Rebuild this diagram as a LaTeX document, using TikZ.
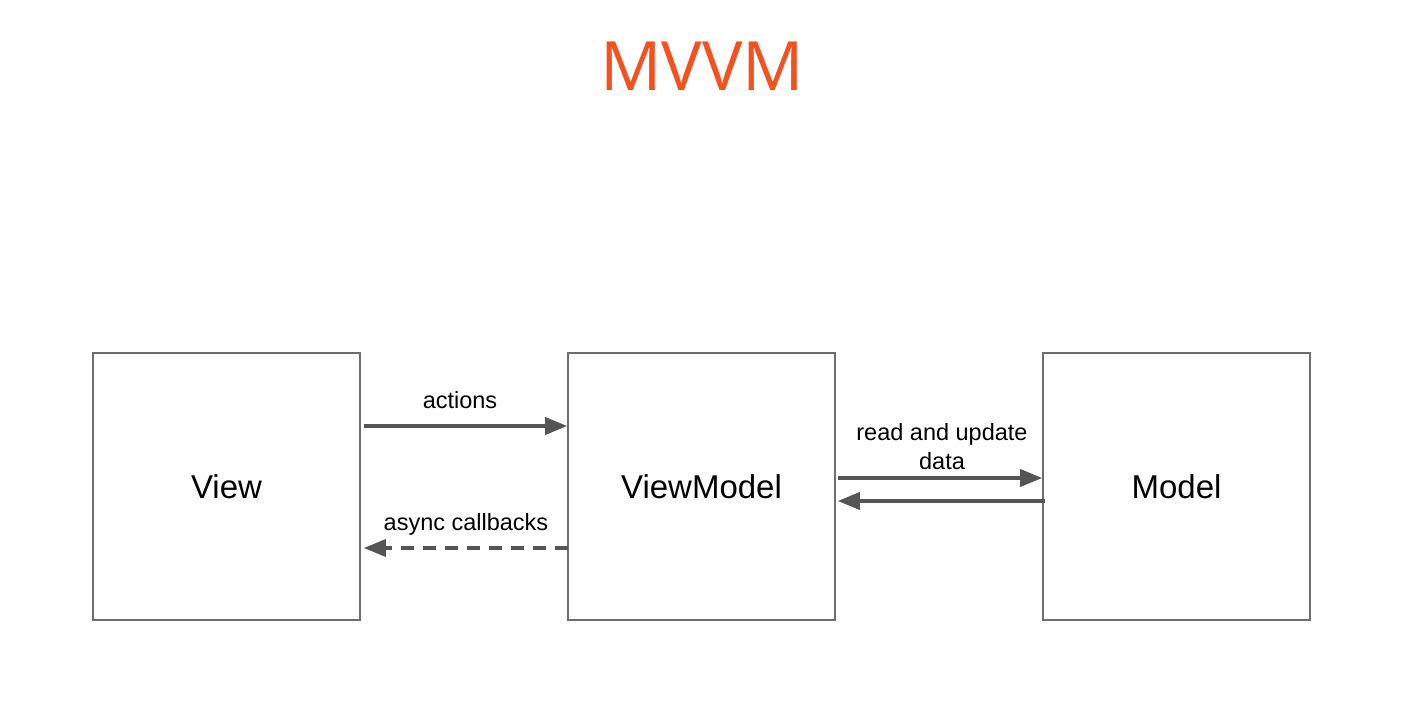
\documentclass[tikz,border=0pt]{standalone}
\usepackage{fontspec}
\setmainfont{Liberation Sans}
\newfontfamily\titlefont{Open Sans}
\usetikzlibrary{arrows.meta}
\definecolor{titleorange}{HTML}{F4511E}
\definecolor{boxgray}{HTML}{6E6E6E}
\definecolor{arrgray}{HTML}{555555}
\tikzset{
  block/.style={draw=boxgray, line width=1.6pt, minimum width=267pt, minimum height=267pt,
    inner sep=0pt, font=\fontsize{33}{38}\selectfont, text=black},
  flow/.style={draw=arrgray, line width=3.6pt, -{Triangle[length=22pt,width=17pt]}},
  flowdash/.style={flow, dash pattern=on 13pt off 9pt},
  lbl/.style={font=\fontsize{23.5}{29}\selectfont, text=black, align=center, inner sep=0pt}
}
\begin{document}
\begin{tikzpicture}[x=1pt,y=1pt]
\useasboundingbox[fill=white] (0,0) rectangle (1425,710);
\node[font=\titlefont\fontsize{68}{72}\selectfont, text=titleorange] (title) at (702,644) {MVVM};
\node[block] (v) at (226.5,223.5) {View};
\node[block] (vm) at (701.5,223.5) {ViewModel};
\node[block] (m) at (1176.5,223.5) {Model};
% actions
\draw[flow, shorten <=3pt] ([yshift=60.5pt]v.east) -- ([yshift=60.5pt]vm.west);
\node[lbl] (la) at (460,310) {actions};
% async callbacks
\draw[flowdash, shorten <=-1pt, shorten >=3pt] ([yshift=-61.5pt]vm.west) -- ([yshift=-61.5pt]v.east);
\node[lbl] (lc) at (466,186) {async callbacks};
% read and update
\draw[flow, shorten <=2pt] ([yshift=8.5pt]vm.east) -- ([yshift=8.5pt]m.west);
\node[lbl] (lr) at (942,263) {read and update\\data};
\draw[flow, shorten <=-3pt, shorten >=2pt] ([yshift=-14.5pt]m.west) -- ([yshift=-14.5pt]vm.east);
\end{tikzpicture}
\end{document}
